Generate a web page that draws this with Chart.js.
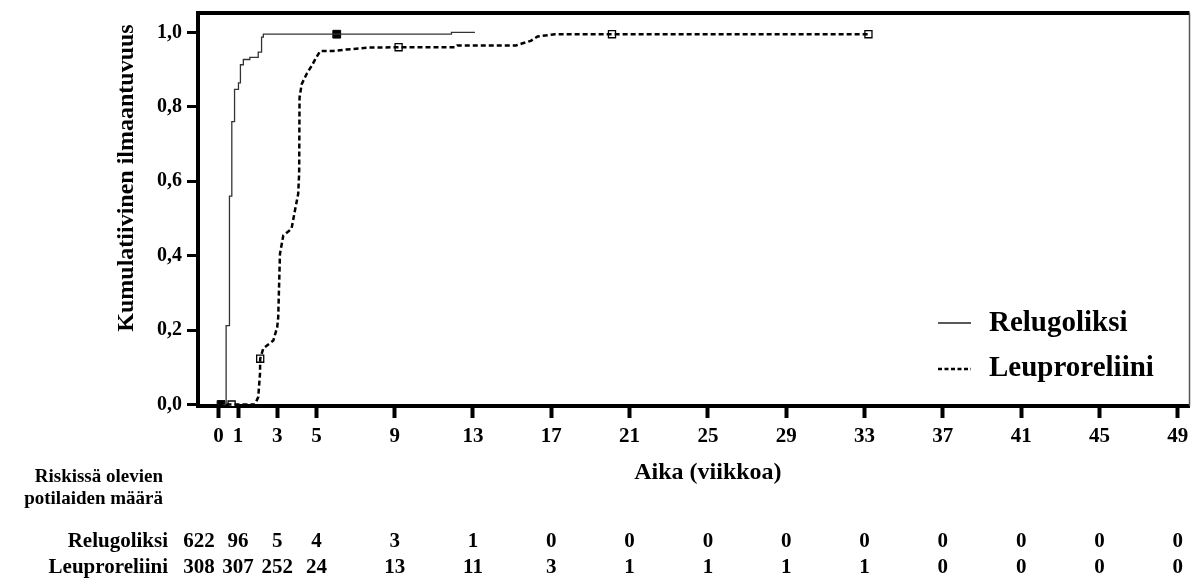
<!DOCTYPE html>
<html>
<head>
<meta charset="utf-8">
<script src="https://cdn.jsdelivr.net/npm/chart.js@4/dist/chart.umd.min.js"></script>
<style>
  html, body { margin: 0; padding: 0; background: #fff; }
  #wrap { width: 1196px; height: 581px; position: relative; }
</style>
</head>
<body>
<div id="wrap"><canvas id="kmChart" width="1196" height="581"></canvas></div>
<script>
// Kaplan-Meier style cumulative incidence
const reluWeeks = [0, 0.39, 0.56, 0.68, 0.82, 1.02, 1.12, 1.27, 1.6, 2.03, 2.2, 2.29, 11.9, 13.1];
const reluCum   = [0, 0.212, 0.56, 0.76, 0.847, 0.864, 0.913, 0.927, 0.933, 0.947, 0.987, 0.995, 1.0, 1.0];

const leupWeeks = [0, 1.86, 2.03, 2.12, 2.13, 2.29, 2.8, 3.0, 3.05, 3.14, 3.31, 3.73, 3.9, 4.07, 4.12, 4.14,
                   4.25, 4.5, 4.76, 5.0, 5.2, 5.85, 6.55, 7.7, 9.2, 12.1, 12.2, 15.2, 15.5, 15.95, 16.3, 17.2, 33.2];
const leupCum   = [0, 0, 0.02, 0.083, 0.123, 0.151, 0.172, 0.208, 0.234, 0.405, 0.454, 0.472, 0.52, 0.566, 0.62, 0.825,
                   0.861, 0.888, 0.91, 0.933, 0.95, 0.95, 0.954, 0.959, 0.96, 0.96, 0.965, 0.965, 0.97, 0.977, 0.989, 0.995, 0.995];

// censored observations (squares)
const reluCensorWeeks = [0.13, 6.04];
const reluCensorCum   = [0, 0.995];
const leupCensorWeeks = [0.67, 2.13, 9.2, 20.1, 33.2];
const leupCensorCum   = [0, 0.123, 0.96, 0.995, 0.995];

const xTicks = [0, 1, 3, 5, 9, 13, 17, 21, 25, 29, 33, 37, 41, 45, 49];
const yTicks = [0, 0.2, 0.4, 0.6, 0.8, 1.0];

// numbers at risk, one column per x tick (first column sits left of week 0)
const riskWeeks = [-1, 1, 3, 5, 9, 13, 17, 21, 25, 29, 33, 37, 41, 45, 49];
const riskRelu  = [622, 96, 5, 4, 3, 1, 0, 0, 0, 0, 0, 0, 0, 0, 0];
const riskLeup  = [308, 307, 252, 24, 13, 11, 3, 1, 1, 1, 1, 0, 0, 0, 0];

const seriesNames = ['Relugoliksi', 'Leuproreliini'];

const FONT = "'Liberation Serif', 'Times New Roman', serif";

const toPoints = (xs, ys) => xs.map((x, i) => ({ x: x, y: ys[i] }));

const extras = {
    id: 'extras',
    afterDatasetsDraw(chart) {
        const c = chart.ctx;
        const a = chart.chartArea;
        const xs = chart.scales.x;
        c.save();

        // frame: top thick, right thin
        c.strokeStyle = '#000';
        c.lineWidth = 4;
        c.beginPath();
        c.moveTo(a.left - 2, a.top);
        c.lineTo(a.right, a.top);
        c.stroke();
        c.strokeStyle = '#555';
        c.lineWidth = 1.5;
        c.beginPath();
        c.moveTo(a.right, a.top);
        c.lineTo(a.right, a.bottom);
        c.stroke();

        // legend
        c.fillStyle = '#000';
        c.textBaseline = 'middle';
        c.textAlign = 'left';
        c.font = 'bold 29px ' + FONT;
        c.strokeStyle = '#222';
        c.lineWidth = 1.3;
        c.beginPath();
        c.moveTo(938, 323);
        c.lineTo(971, 323);
        c.stroke();
        c.fillText(seriesNames[0], 989, 324);
        c.strokeStyle = '#000';
        c.lineWidth = 2.5;
        c.setLineDash([4, 2.5]);
        c.beginPath();
        c.moveTo(938, 369);
        c.lineTo(971, 369);
        c.stroke();
        c.setLineDash([]);
        c.fillText(seriesNames[1], 989, 369);

        // y title
        c.save();
        c.translate(127, 178);
        c.rotate(-Math.PI / 2);
        c.textAlign = 'center';
        c.font = 'bold 24px ' + FONT;
        c.fillText('Kumulatiivinen ilmaantuvuus', 0, 0);
        c.restore();

        // x title
        c.textAlign = 'center';
        c.font = 'bold 24px ' + FONT;
        c.fillText('Aika (viikkoa)', xs.getPixelForValue(25), 473);

        // risk table
        c.textAlign = 'right';
        c.font = 'bold 19px ' + FONT;
        c.fillText('Riskissä olevien', 163, 477);
        c.fillText('potilaiden määrä', 163, 499);
        c.font = 'bold 21px ' + FONT;
        c.fillText(seriesNames[0], 168, 542);
        c.fillText(seriesNames[1], 168, 568);
        c.textAlign = 'center';
        riskWeeks.forEach((w, i) => {
            const px = xs.getPixelForValue(w);
            c.fillText(String(riskRelu[i]), px, 542);
            c.fillText(String(riskLeup[i]), px, 568);
        });
        c.restore();
    }
};

new Chart(document.getElementById('kmChart'), {
    type: 'scatter',
    data: {
        datasets: [
            {
                label: seriesNames[1],
                type: 'line',
                data: toPoints(leupWeeks, leupCum),
                borderColor: '#000',
                borderWidth: 2.5,
                borderDash: [5, 3],
                pointRadius: 0,
                fill: false,
                tension: 0
            },
            {
                label: seriesNames[0],
                type: 'line',
                data: toPoints(reluWeeks, reluCum),
                borderColor: '#333',
                borderWidth: 1.3,
                stepped: true,
                pointRadius: 0,
                fill: false
            },
            {
                label: 'leup censored',
                data: toPoints(leupCensorWeeks, leupCensorCum),
                pointStyle: 'rect',
                pointRadius: 5,
                backgroundColor: '#fff',
                borderColor: '#000',
                borderWidth: 1.3
            },
            {
                label: 'relu censored',
                data: toPoints(reluCensorWeeks, reluCensorCum),
                pointStyle: 'rect',
                pointRadius: 5.5,
                backgroundColor: '#000',
                borderColor: '#000',
                borderWidth: 1
            }
        ]
    },
    options: {
        responsive: false,
        animation: false,
        devicePixelRatio: 1,
        layout: { padding: { top: 13, right: 1, left: 0, bottom: 0 } },
        plugins: {
            legend: { display: false },
            tooltip: { enabled: false }
        },
        scales: {
            x: {
                type: 'linear',
                min: -1.047,
                max: 49.6,
                afterBuildTicks: (s) => { s.ticks = xTicks.map(v => ({ value: v })); },
                afterFit: (s) => { s.height = 175; s.paddingLeft = 0; s.paddingRight = 0; },
                grid: {
                    drawOnChartArea: false,
                    drawTicks: true,
                    tickLength: 12,
                    tickWidth: 4,
                    tickColor: '#000'
                },
                border: { display: true, color: '#000', width: 4 },
                ticks: {
                    color: '#000',
                    padding: 6,
                    maxRotation: 0,
                    autoSkip: false,
                    font: { family: FONT, size: 21, weight: 'bold' }
                }
            },
            y: {
                type: 'linear',
                min: -0.004,
                max: 1.052,
                afterBuildTicks: (s) => { s.ticks = yTicks.map(v => ({ value: v })); },
                afterFit: (s) => { s.width = 198; s.paddingTop = 0; s.paddingBottom = 0; },
                grid: {
                    drawOnChartArea: false,
                    drawTicks: true,
                    tickLength: 11,
                    tickWidth: 3,
                    tickColor: '#000'
                },
                border: { display: true, color: '#000', width: 4 },
                ticks: {
                    color: '#000',
                    padding: 5,
                    font: { family: FONT, size: 20, weight: 'bold' },
                    callback: (v) => v.toFixed(1).replace('.', ',')
                }
            }
        }
    },
    plugins: [extras]
});
</script>
</body>
</html>
